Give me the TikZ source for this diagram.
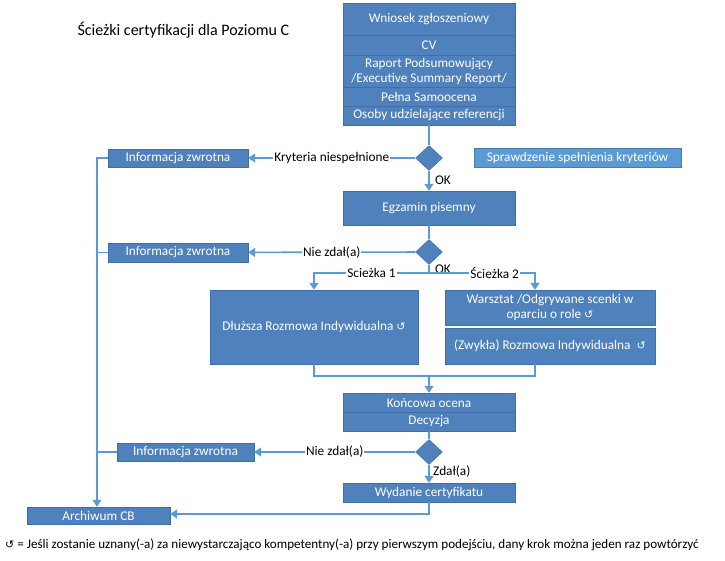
\documentclass[tikz,border=0pt]{standalone}
\usepackage{fontspec}
\setmainfont{Carlito}
\newfontfamily\symbfont{DejaVu Sans}
\usepackage{xcolor}
\usetikzlibrary{shapes.geometric,arrows.meta,positioning}

\definecolor{boxblue}{HTML}{4F81BD}
\definecolor{boxedge}{HTML}{3F6FA8}
\definecolor{lightblue}{HTML}{5B9BD5}
\definecolor{linkblue}{HTML}{5B9BD5}
\newcommand{\rep}{{\symbfont\fontsize{11}{12}\selectfont ↺}}

\begin{document}
\begin{tikzpicture}[x=1pt, y=-1pt,
    box/.style={draw=boxedge, fill=boxblue, text=white, inner sep=1pt,
        font=\fontsize{13.3}{15}\selectfont, align=center},
    decision/.style={diamond, fill=boxblue, draw=boxedge, inner sep=0pt,
        minimum width=27pt, minimum height=25pt},
    link/.style={draw=linkblue, line width=1.6pt},
    flow/.style={link, -{Triangle[width=9pt,length=7pt]}},
    lbl/.style={fill=white, inner sep=1pt, font=\fontsize{13.3}{14}\selectfont},
    note/.style={font=\fontsize{13.3}{14}\selectfont}]
    \useasboundingbox (0,0) rectangle (725,560);

    % Title
    \node[anchor=west, font=\fontsize{16}{18}\selectfont] (title) at (74,30) {Ścieżki certyfikacji dla Poziomu C};

    % Application documents (top stack)
    \node[box, minimum width=172pt, minimum height=32pt] (wniosek) at (429,19) {Wniosek zgłoszeniowy};
    \node[box, minimum width=172pt, minimum height=20pt] (cv) at (429,45) {CV};
    \node[box, minimum width=172pt, minimum height=32pt] (raport) at (429,71) {Raport Podsumowujący\\/Executive Summary Report/};
    \node[box, minimum width=172pt, minimum height=19pt] (samoocena) at (429,96.5) {Pełna Samoocena};
    \node[box, minimum width=172pt, minimum height=19pt] (osoby) at (429,115.5) {Osoby udzielające referencji};

    % Criteria check
    \node[decision] (d1) at (429,158) {};
    \node[box, minimum width=140pt, minimum height=18pt] (info1) at (178,158) {Informacja zwrotna};
    \node[box, draw=lightblue!80!black, fill=lightblue, minimum width=207pt, minimum height=19pt] (sprawdzenie) at (577.5,157.5) {Sprawdzenie spełnienia kryteriów};

    % Written exam
    \node[box, minimum width=172pt, minimum height=34pt] (egzamin) at (429,208) {Egzamin pisemny};
    \node[decision] (d2) at (429,252) {};
    \node[box, minimum width=140pt, minimum height=19pt] (info2) at (178,252.5) {Informacja zwrotna};
    \coordinate (split) at (429,273);

    % Paths
    \node[box, minimum width=208pt, minimum height=74pt] (dluzsza) at (314,327) {Dłuższa Rozmowa Indywidualna \rep};
    \node[box, minimum width=210pt, minimum height=35pt] (warsztat) at (550,307.5) {Warsztat /Odgrywane scenki w\\oparciu o role \rep};
    \node[box, minimum width=210pt, minimum height=36pt] (zwykla) at (550,346) {(Zwykła) Rozmowa Indywidualna \ \rep};
    \coordinate (merge) at (429,376);

    % Final assessment
    \node[box, minimum width=172pt, minimum height=19pt] (koncowa) at (429,402.5) {Końcowa ocena};
    \node[box, minimum width=172pt, minimum height=19pt] (decyzja) at (429,421.5) {Decyzja};
    \node[decision] (d3) at (429,452) {};
    \node[box, minimum width=137pt, minimum height=18pt] (info3) at (185.5,452) {Informacja zwrotna};
    \node[box, minimum width=172pt, minimum height=19pt] (wydanie) at (429,492.5) {Wydanie certyfikatu};
    \node[box, minimum width=143pt, minimum height=17pt] (archiwum) at (98.5,515.5) {Archiwum CB};
    \coordinate (spine) at (97,158);

    % Arrows
    \draw[link] (osoby) -- (d1);
    \draw[flow] (d1) -- node[lbl] {Kryteria niespełnione} (info1);
    \draw[flow] (d1) -- node[note, pos=0.45, right=2pt] {OK} (egzamin);
    \draw[link] (egzamin) -- (d2);
    \draw[flow] (d2) -- node[lbl] {Nie zdał(a)} (info2);
    \draw[link] (d2) -- node[note, pos=0.55, right=2pt] {OK} (split);
    \draw[flow] (split) -- node[lbl, pos=0.5] {Scieżka 1} (split -| dluzsza.north) -- (dluzsza.north);
    \draw[flow] (split) -- node[lbl, pos=0.62] {Ścieżka 2} (split -| 535,0) -- (535,0 |- warsztat.north);
    \draw[link] (dluzsza.south) -- (dluzsza.south |- merge) -- (merge -| 535,0) -- (535,0 |- zwykla.south);
    \draw[flow] (merge) -- (koncowa);
    \draw[link] (decyzja) -- (d3);
    \draw[flow] (d3) -- node[lbl] {Nie zdał(a)} (info3);
    \draw[flow] (d3) -- node[note, pos=0.4, right=0pt] {Zdał(a)} (wydanie);
    \draw[flow] (wydanie.south) -- (wydanie.south |- 0,514) -- (archiwum.east |- 0,514);
    \draw[flow] (info1.west) -- (spine) -- (spine |- archiwum.north);
    \draw[link] (info2.west) -- (info2.west -| spine);
    \draw[link] (info3.west) -- (info3.west -| spine);

    % Footnote
    \node[anchor=west, font=\fontsize{13.1}{14}\selectfont, inner sep=0pt] (legenda) at (5,545) {{\symbfont\fontsize{11}{12}\selectfont ↺} = Jeśli zostanie uznany(-a) za niewystarczająco kompetentny(-a) przy pierwszym podejściu, dany krok można jeden raz powtórzyć};
\end{tikzpicture}
\end{document}
